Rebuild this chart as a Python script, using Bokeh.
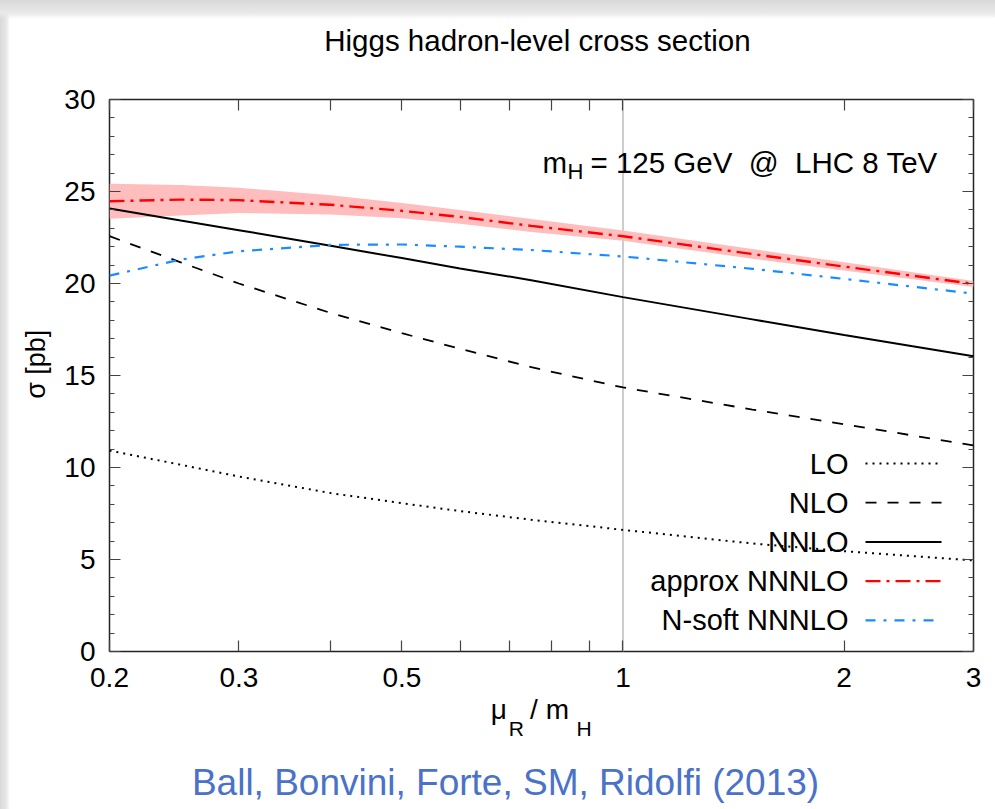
from bokeh.plotting import figure
from bokeh.models import (LogAxis, LinearAxis, FixedTicker, SingleIntervalTicker,
                          Span, Label, Arrow, Range1d)
from bokeh.embed import file_html
from bokeh.resources import INLINE

# renormalisation scale mu_R / m_H
mu_ratio = [0.2, 0.25, 0.3, 0.4, 0.5, 0.6, 0.75, 1.0, 1.5, 2.0, 3.0]

# hadron-level Higgs cross sections [pb]
sigma_lo = [10.92, 10.15, 9.51, 8.61, 8.06, 7.63, 7.16, 6.61, 5.87, 5.45, 4.95]
sigma_nlo = [22.57, 21.15, 20.0, 18.4, 17.3, 16.45, 15.45, 14.35, 13.15, 12.35, 11.2]
sigma_nnlo = [24.08, 23.42, 22.9, 22.05, 21.38, 20.82, 20.18, 19.26, 18.05, 17.2, 16.05]
sigma_n3lo = [24.47, 24.56, 24.53, 24.28, 23.95, 23.62, 23.13, 22.57, 21.6, 20.92, 19.98]
sigma_n3lo_hi = [25.42, 25.36, 25.2, 24.8, 24.38, 24.0, 23.5, 22.88, 21.87, 21.15, 20.13]
sigma_n3lo_lo = [23.52, 23.7, 23.83, 23.75, 23.55, 23.25, 22.8, 22.32, 21.35, 20.7, 19.81]
sigma_nsoft = [20.43, 21.3, 21.75, 22.1, 22.12, 22.0, 21.82, 21.47, 20.8, 20.25, 19.45]

x_ticks = [0.2, 0.3, 0.4, 0.5, 0.6, 0.7, 0.8, 0.9, 1, 2, 3]
x_tick_labels = {0.2: "0.2", 0.3: "0.3", 0.4: "", 0.5: "0.5", 0.6: "", 0.7: "",
                 0.8: "", 0.9: "", 1: "1", 2: "2", 3: "3"}

legend_labels = ["LO", "NLO", "NNLO", "approx NNNLO", "N-soft NNNLO"]

FONT = "Liberation Sans"
BLACK = "#000000"
RED = "#ff0000"
BLUE = "#1a8cff"
NB = "\u00a0"

FL, FB = 109, 651   # frame origin on the page (left, bottom)

p = figure(x_axis_type="log", x_range=Range1d(0.2, 3), y_range=Range1d(0, 30),
           frame_width=864, frame_height=552,
           min_border_left=FL, min_border_right=22, min_border_top=99, min_border_bottom=158,
           output_backend="svg", toolbar_location=None)
# white card with a soft grey edge along the top and the left side
p.border_fill_color = None
p.styles = {"background": "linear-gradient(to bottom, #d9d9d9 0px, #e9e9e9 13px, rgba(255,255,255,0) 19px), "
                          "linear-gradient(to right, #d9d9d9 0px, #e6e6e6 6px, rgba(255,255,255,0) 10px), "
                          "#ffffff"}
p.background_fill_color = "#ffffff"
p.outline_line_color = "#222222"
p.outline_line_width = 1.5
p.grid.visible = False


def style_x(ax, labels=True):
    ax.ticker = FixedTicker(ticks=x_ticks)
    ax.major_tick_in = 11
    ax.major_tick_out = 0
    ax.minor_tick_line_color = None
    ax.axis_line_color = None
    ax.major_tick_line_color = "#444444"
    ax.major_tick_line_width = 1.2
    if labels:
        ax.major_label_overrides = x_tick_labels
        ax.major_label_text_font = FONT
        ax.major_label_text_font_size = "28px"
        ax.major_label_text_color = BLACK
        ax.major_label_standoff = 16
    else:
        ax.major_label_text_color = None
        ax.major_label_text_font_size = "1px"
        ax.major_label_standoff = 0


def style_y(ax, labels=True):
    ax.ticker = SingleIntervalTicker(interval=5, num_minor_ticks=5)
    ax.major_tick_in = 11
    ax.major_tick_out = 0
    ax.minor_tick_in = 5
    ax.minor_tick_out = 0
    ax.axis_line_color = None
    ax.major_tick_line_color = "#444444"
    ax.minor_tick_line_color = "#444444"
    ax.major_tick_line_width = 1.2
    ax.minor_tick_line_width = 1.2
    if labels:
        ax.major_label_text_font = FONT
        ax.major_label_text_font_size = "28px"
        ax.major_label_text_color = BLACK
        ax.major_label_standoff = 14
    else:
        ax.major_label_text_color = None
        ax.major_label_text_font_size = "1px"
        ax.major_label_standoff = 0


def label_style(ax, size, standoff, color=BLACK):
    ax.axis_label_text_font = FONT
    ax.axis_label_text_font_size = size
    ax.axis_label_text_font_style = "normal"
    ax.axis_label_text_color = color
    ax.axis_label_standoff = standoff


def text_only_axis(label, size, standoff, color=BLACK):
    # an axis without ticks that only carries a line of text below the plot
    ax = LogAxis(ticker=FixedTicker(ticks=[]), axis_label=label)
    ax.axis_line_color = None
    ax.major_tick_line_color = None
    ax.minor_tick_line_color = None
    ax.major_tick_in = 0
    ax.major_tick_out = 0
    ax.major_label_standoff = 0
    label_style(ax, size, standoff, color)
    p.add_layout(ax, "below")


style_x(p.xaxis[0])
style_y(p.yaxis[0])

# y-axis title
p.yaxis[0].axis_label = NB * 3 + "σ [pb]"
label_style(p.yaxis[0], "27px", 10)

# x-axis title: main line here, subscripts on the next (overlapping) line
p.xaxis[0].axis_label = "μ" + NB * 3 + "/ m" + NB * 3
label_style(p.xaxis[0], "28px", 4)
text_only_axis(NB * 3 + "R" + NB * 9 + "H", "21px", -11)

# reference line at the bottom
text_only_axis("Ball, Bonvini, Forte, SM, Ridolfi (2013)" + NB * 7, "37px", 19, color="#4a72c8")

# mirrored axes on top and right; the top one carries the chart title
top_axis = LogAxis()
style_x(top_axis, labels=False)
top_axis.axis_label = "Higgs hadron-level cross section" + NB
label_style(top_axis, "29.5px", 43)
p.add_layout(top_axis, "above")
right_axis = LinearAxis()
style_y(right_axis, labels=False)
p.add_layout(right_axis, "right")

# reference scale mu_R = m_H
p.add_layout(Span(location=1, dimension="height", line_color="#bdbdbd",
                  line_width=1.5, level="underlay"))

# scale-uncertainty band of the approximate N3LO result
p.varea(x=mu_ratio, y1=sigma_n3lo_lo, y2=sigma_n3lo_hi, fill_color="#ffbdbd")

styles = [
    (sigma_lo, BLACK, "2 5", 2.0),
    (sigma_nlo, BLACK, "11 11", 1.8),
    (sigma_nnlo, BLACK, "solid", 2.0),
    (sigma_n3lo, RED, "15 6 3 6", 2.4),
    (sigma_nsoft, BLUE, "10 8 3 8", 2.2),
]
for ys, col, dash, w in [styles[0], styles[1], styles[2], styles[4], styles[3]]:
    p.line(mu_ratio, ys, line_color=col, line_dash=dash, line_width=w)


def text(txt, sx, sy, size, align="left", baseline="alphabetic", color=BLACK):
    p.add_layout(Label(x=sx, y=sy, x_units="screen", y_units="screen", text=txt,
                       text_font=FONT, text_font_size=size, text_color=color,
                       text_align=align, text_baseline=baseline))


# legend: label on the left, line sample on the right
for i, (lab, (_, col, dash, w)) in enumerate(zip(legend_labels, styles)):
    sy = (FB - 463) - 39.2 * i
    text(lab, 848 - FL, sy, "29px", align="right", baseline="middle")
    p.add_layout(Arrow(end=None, x_start=865 - FL, y_start=sy, x_end=941 - FL, y_end=sy,
                       start_units="screen", end_units="screen",
                       line_color=col, line_dash=dash, line_width=w))

# process annotation
text("m", 542 - FL, FB - 162, "29.5px")
text("H", 567 - FL, FB - 171, "22px")
text("= 125 GeV" + NB + NB + "@" + NB + NB + "LHC 8 TeV", 590 - FL, FB - 162, "29.5px")

open("out.html", "w").write(file_html(p, INLINE))
